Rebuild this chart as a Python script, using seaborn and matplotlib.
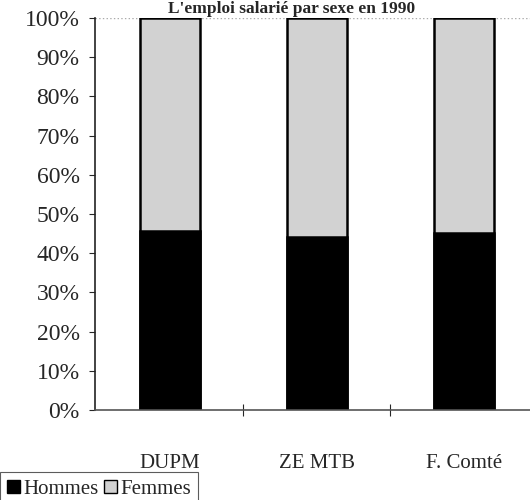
import numpy as np
import pandas as pd
import matplotlib
matplotlib.use("Agg")
import matplotlib.pyplot as plt
import seaborn as sns
from matplotlib.patches import Patch
from matplotlib.ticker import PercentFormatter, FixedLocator

# data
zones = ["DUPM", "ZE MTB", "F. Comté"]
hommes = [45.7, 44.2, 45.2]
femmes = [100 - h for h in hommes]
total = [h + f for h, f in zip(hommes, femmes)]

df = pd.DataFrame({"zone": zones, "Hommes": hommes, "Femmes": femmes, "total": total})

sns.set_style("white")
plt.rcParams["font.family"] = ["Liberation Serif", "DejaVu Serif"]

fig = plt.figure(figsize=(5.3, 5.0), dpi=100)
ax = fig.add_axes([0.179, 0.18, 0.821, 0.784])

gris = "#d2d2d2"
# stacked bars: full bar in grey (Femmes), Hommes drawn on top
sns.barplot(data=df, x="zone", y="total", color=gris, edgecolor="black",
            linewidth=1.8, width=0.41, saturation=1, ax=ax)
sns.barplot(data=df, x="zone", y="Hommes", color="black", edgecolor="black",
            linewidth=1.8, width=0.41, saturation=1, ax=ax)

ax.set_xlim(-0.51, 2.45)
ax.set_ylim(0, 100)
ax.yaxis.set_major_locator(FixedLocator(np.arange(0, 101, 10)))
ax.yaxis.set_major_formatter(PercentFormatter(decimals=0))
ax.set_xlabel("")
ax.set_ylabel("")

# dotted line at 100%
ax.axhline(100, color="#aaaaaa", linestyle=":", linewidth=1, zorder=0)

for s in ["top", "right"]:
    ax.spines[s].set_visible(False)
ax.spines["left"].set_color("#222222")
ax.spines["left"].set_linewidth(1.2)
ax.spines["bottom"].set_color("#555555")
ax.spines["bottom"].set_linewidth(1.2)

ax.tick_params(axis="y", left=True, length=4, width=0.8, labelsize=17, pad=7)
ax.tick_params(axis="x", bottom=False, labelsize=15, pad=28)
# small ticks between categories on the x axis
ax.set_xticks([0.5, 1.5], minor=True)
ax.tick_params(axis="x", which="minor", bottom=True, direction="inout", length=8, width=0.8)

# title at the very top
fig.text(0.55, 0.998, "L'emploi salarié par sexe en 1990", ha="center", va="top",
         fontsize=12.5, fontweight="bold")

handles = [Patch(facecolor="black", edgecolor="black", label="Hommes"),
           Patch(facecolor=gris, edgecolor="black", label="Femmes")]
leg = fig.legend(handles=handles, loc="lower left", bbox_to_anchor=(0.0, -0.012), ncol=2,
                 fontsize=15, frameon=True, fancybox=False, edgecolor="#333333",
                 handlelength=0.6, handleheight=0.6, handletextpad=0.15,
                 columnspacing=0.3, borderpad=0.35, borderaxespad=0.0)
leg.get_frame().set_linewidth(0.8)

fig.savefig("out.png", dpi=100)
